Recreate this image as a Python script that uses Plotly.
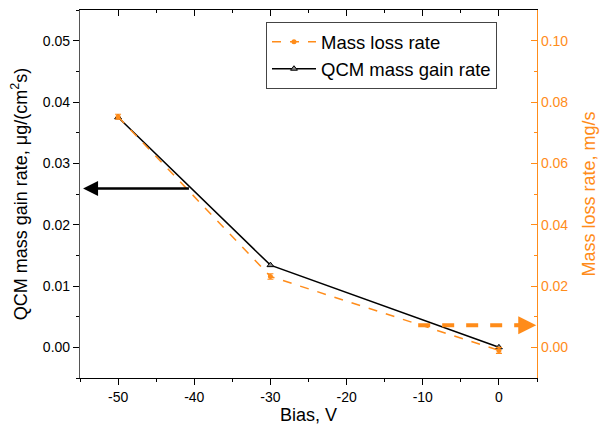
import plotly.graph_objects as go

bias = [-50, -30, 0]
qcm_gain = [0.0375, 0.0134, 0.0000]
mass_loss = [0.0752, 0.0231, -0.0010]
mass_loss_err = [0.0008, 0.0009, 0.0010]

x_ticks = [-50, -40, -30, -20, -10, 0]
x_ticktext = ["-50", "-40", "-30", "-20", "-10", "0"]
yl_ticks = [0, 0.01, 0.02, 0.03, 0.04, 0.05]
yr_ticks = [0, 0.02, 0.04, 0.06, 0.08, 0.10]

orange = "#FF8C1A"
font = "Liberation Sans, Arial, sans-serif"

fig = go.Figure()
fig.add_trace(go.Scatter(
    x=bias, y=mass_loss, name="Mass loss rate", yaxis="y2",
    mode="lines+markers",
    line=dict(color=orange, width=1.5, dash="dash"),
    marker=dict(symbol="circle", size=5, color=orange),
    error_y=dict(type="data", array=mass_loss_err, color=orange, thickness=1.2, width=3),
))
fig.add_trace(go.Scatter(
    x=bias, y=qcm_gain, name="QCM mass gain rate", yaxis="y",
    mode="lines+markers",
    line=dict(color="black", width=1.5),
    marker=dict(symbol="triangle-up", size=6, color="#888", line=dict(color="black", width=1)),
))
# invisible trace for top axis
fig.add_trace(go.Scatter(x=bias, y=qcm_gain, xaxis="x2", yaxis="y", mode="none",
                         showlegend=False, hoverinfo="skip"))

# black arrow pointing to left axis
fig.add_annotation(x=-54.6, y=0.0259, ax=-40.5, ay=0.0259, xref="x", yref="y",
                   axref="x", ayref="y", showarrow=True, arrowhead=2, arrowsize=1.2,
                   arrowwidth=2.5, arrowcolor="black", text="")
# orange dashed arrow pointing to right axis
fig.add_shape(type="line", x0=-10.6, x1=3.0, y0=0.0072, y1=0.0072, xref="x", yref="y2",
              line=dict(color=orange, width=4, dash="dash"))
fig.add_annotation(x=4.9, y=0.0072, ax=2.0, ay=0.0072, xref="x", yref="y2",
                   axref="x", ayref="y2", showarrow=True, arrowhead=2, arrowsize=1.2,
                   arrowwidth=3, arrowcolor=orange, text="")

fig.update_layout(
    width=600, height=436,
    margin=dict(l=80, r=63, t=10, b=58),
    paper_bgcolor="white", plot_bgcolor="white",
    font=dict(family=font, size=14, color="black"),
    showlegend=True,
    legend=dict(x=0.407, y=0.967, xanchor="left", yanchor="top",
                bgcolor="white", bordercolor="#444", borderwidth=1,
                font=dict(size=18.5, family=font), tracegroupgap=0, itemwidth=44),
    xaxis=dict(range=[-55, 5], tickvals=x_ticks, ticktext=x_ticktext, automargin=False,
               ticks="outside", ticklen=6, tickwidth=1.2, tickcolor="black",
               minor=dict(ticks="outside", ticklen=3, dtick=5, tickcolor="black"),
               showline=True, linecolor="black", linewidth=1.2, showgrid=False, zeroline=False,
               title=dict(text="Bias, V", font=dict(size=18), standoff=2),
               tickfont=dict(size=14)),
    xaxis2=dict(overlaying="x", side="top", matches="x", range=[-55, 5], automargin=False,
                tickvals=x_ticks, ticks="inside", ticklen=6,
                tickcolor="black", showticklabels=False,
                minor=dict(ticks="inside", ticklen=3, dtick=5, tickcolor="black"),
                showline=True, linecolor="black", linewidth=1.2, showgrid=False, zeroline=False),
    yaxis=dict(range=[-0.005, 0.055], tickvals=yl_ticks, automargin=False,
               tickformat=".2f", ticks="outside", ticklen=6, tickwidth=1.2, tickcolor="black",
               minor=dict(ticks="outside", ticklen=3, dtick=0.005, tickcolor="black"),
               showline=True, linecolor="#555", linewidth=1.2, showgrid=False, zeroline=False,
               title=dict(text="QCM mass gain rate, μg/(cm<sup>2</sup>s)", font=dict(size=18), standoff=10),
               tickfont=dict(size=14)),
    yaxis2=dict(overlaying="y", side="right", range=[-0.01, 0.11], automargin=False,
                tickvals=yr_ticks, tickformat=".2f",
                ticks="inside", ticklen=6, tickwidth=1.2, tickcolor=orange,
                minor=dict(ticks="inside", ticklen=3, dtick=0.01, tickcolor=orange),
                showline=True, linecolor=orange, linewidth=1.2, showgrid=False, zeroline=False,
                title=dict(text="Mass loss rate, mg/s", font=dict(size=18, color=orange), standoff=15),
                tickfont=dict(size=14, color=orange)),
)

fig.write_html("out.html", config={"displayModeBar": False},
               post_script="document.body.style.margin='0';")
